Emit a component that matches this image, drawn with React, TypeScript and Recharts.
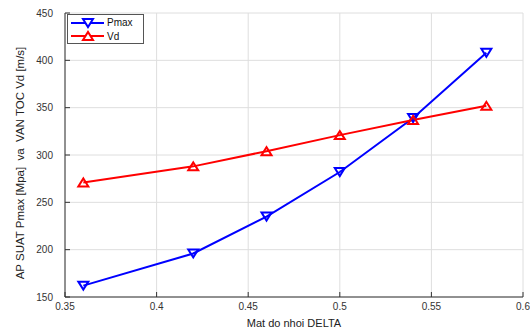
import { LineChart, Line, XAxis, YAxis, CartesianGrid } from "recharts";

const delta = [0.36, 0.42, 0.46, 0.5, 0.54, 0.58];
const pmax = [162, 196, 235, 282, 339, 408];
const vd = [271, 288, 304, 321, 337, 352];
const xTicks = [0.35, 0.4, 0.45, 0.5, 0.55, 0.6];
const yTicks = [150, 200, 250, 300, 350, 400, 450];

const data = delta.map((d, i) => ({ delta: d, pmax: pmax[i], vd: vd[i] }));

const tri = (cx: number, cy: number, down: boolean) => {
  const h = 4;
  const w = 5;
  return down
    ? `M${cx - w},${cy - h} L${cx + w},${cy - h} L${cx},${cy + h} Z`
    : `M${cx - w},${cy + h} L${cx + w},${cy + h} L${cx},${cy - h} Z`;
};

const makeDot = (color: string, down: boolean) => (props: any) => {
  const { cx, cy, index } = props;
  return (
    <path
      key={index}
      d={tri(cx, cy, down)}
      fill="none"
      stroke={color}
      strokeWidth={2}
    />
  );
};

const legendItems = [
  { name: "Pmax", color: "#0000ff", down: true },
  { name: "Vd", color: "#ff0000", down: false },
];

const font = "Liberation Sans, Arial, sans-serif";

const LegendBox = () => (
  <div
    style={{
      position: "absolute",
      left: 67,
      top: 14,
      width: 77,
      height: 30,
      border: "1px solid #555",
      background: "white",
      fontFamily: font,
      fontSize: 10,
      color: "#111",
      boxSizing: "border-box",
      paddingTop: 1,
    }}
  >
    {legendItems.map((it) => (
      <div key={it.name} style={{ display: "flex", alignItems: "center", height: 13.5 }}>
        <svg width={38} height={12}>
          <line x1={3} y1={6} x2={36} y2={6} stroke={it.color} strokeWidth={2} />
          <path d={tri(20, 6, it.down)} fill="white" stroke={it.color} strokeWidth={2} />
        </svg>
        <span style={{ marginLeft: 1 }}>{it.name}</span>
      </div>
    ))}
  </div>
);

const YLabel = () => (
  <text
    x={20}
    y={163}
    transform="rotate(-90, 20, 163)"
    textAnchor="middle"
    dominantBaseline="central"
    fontSize={11.5}
    fill="#222"
    fontFamily={font}
    style={{ whiteSpace: "pre" }}
  >
    {"AP SUAT Pmax [Mpa]\u00a0\u00a0va\u00a0\u00a0VAN TOC Vd [m/s]"}
  </text>
);

export default function App() {
  return (
    <div style={{ position: "absolute", left: 0, top: 0, background: "white" }}>
      <LineChart
        width={530}
        height={331}
        data={data}
        margin={{ top: 13, right: 7, left: 20, bottom: 14 }}
      >
        <CartesianGrid stroke="#dedede" strokeWidth={1} />
        <XAxis
          dataKey="delta"
          type="number"
          domain={[0.35, 0.6]}
          ticks={xTicks}
          height={20}
          stroke="#333"
          tickSize={-5}
          tickMargin={11}
          tick={{ fontSize: 10, fill: "#333", fontFamily: font }}
          label={{
            value: "Mat do nhoi DELTA",
            position: "insideBottom",
            offset: -10,
            fontSize: 11,
            fill: "#222",
            fontFamily: font,
          }}
        />
        <YAxis
          type="number"
          domain={[150, 450]}
          ticks={yTicks}
          width={45}
          stroke="#333"
          tickSize={-5}
          tickMargin={17}
          tick={{ fontSize: 10, fill: "#333", fontFamily: font }}
          label={<YLabel />}
        />
        <Line
          dataKey="pmax"
          name="Pmax"
          stroke="#0000ff"
          strokeWidth={2}
          dot={makeDot("#0000ff", true)}
          isAnimationActive={false}
        />
        <Line
          dataKey="vd"
          name="Vd"
          stroke="#ff0000"
          strokeWidth={2}
          dot={makeDot("#ff0000", false)}
          isAnimationActive={false}
        />
      </LineChart>
      <LegendBox />
    </div>
  );
}
